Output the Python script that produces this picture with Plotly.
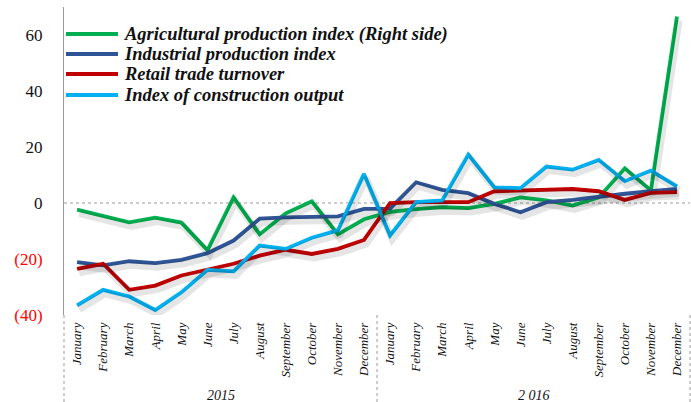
import plotly.graph_objects as go

months = ["January", "February", "March", "April", "May", "June", "July",
          "August", "September", "October", "November", "December"]
years = ["2015", "2 016"]
categories = months + months

agri = [-2.4, -4.8, -6.9, -5.2, -7.0, -16.9, 2.0, -11.2, -3.7, 0.6, -11.2, -5.8,
        -3.2, -2.2, -1.5, -1.8, -0.3, 2.0, 0.9, -0.9, 2.0, 12.4, 4.5, 66.6]
industrial = [-21.1, -22.3, -20.8, -21.5, -20.3, -17.9, -13.4, -5.6, -5.1, -4.8, -4.8, -2.1,
              -2.0, 7.4, 4.7, 3.5, -0.3, -3.3, 0.3, 1.1, 2.3, 3.3, 4.2, 5.0]
retail = [-23.5, -21.7, -31.0, -29.5, -25.9, -23.9, -21.7, -18.8, -16.7, -18.2, -16.4, -13.2,
          0.0, 0.3, 0.3, 0.3, 4.2, 4.5, 4.5, 5.0, 4.2, 1.1, 3.6, 3.9]
construction = [-36.6, -31.0, -33.4, -38.2, -31.9, -23.9, -24.4, -15.2, -16.4, -12.4, -9.8, 10.4,
                -11.6, 0.3, 0.9, 17.3, 5.6, 5.3, 13.0, 11.9, 15.4, 7.8, 11.6, 5.9]

series_names = ["Agricultural production index (Right side)", "Industrial production index",
                "Retail trade turnover", "Index of construction output"]
series_values = [agri, industrial, retail, construction]
colors = ["#00B050", "#2F5597", "#C00000", "#00B0F0"]

y_tickvals = [60, 40, 20, 0, -20, -40]
y_ticktext = ["60", "40", "20", "0",
              "<span style='color:#FF0000'>(20)</span>",
              "<span style='color:#FF0000'>(40)</span>"]

x = list(range(len(categories)))
SERIF = "Liberation Serif, Times New Roman, serif"

fig = go.Figure()

# soft shadows (overlaid, slightly shifted axes)
for i in range(4):
    fig.add_trace(go.Scatter(x=x, y=series_values[i], mode="lines", xaxis="x2", yaxis="y2",
                             line=dict(color="rgba(0,0,0,0.10)", width=7),
                             hoverinfo="skip", showlegend=False))
for i in range(4):
    fig.add_trace(go.Scatter(x=x, y=series_values[i], mode="lines", name=series_names[i],
                             line=dict(color=colors[i], width=3.8), showlegend=False))

L, R, T, B = 64, 1, 7, 87
W, H = 691, 402
pw = W - L - R
ph = H - T - B

def px_x(p):
    return (p - L) / pw

def px_y(p):
    return (H - B - p) / ph

shapes = []
shapes.append(dict(type="line", xref="paper", yref="y", x0=0, x1=1, y0=0, y1=0,
                   line=dict(color="#9a9a9a", width=1, dash="dot"), layer="below"))
for p in [0, 0.5, 1]:
    shapes.append(dict(type="line", xref="paper", yref="paper", x0=p, x1=p, y0=0, y1=px_y(402),
                       line=dict(color="#9a9a9a", width=1, dash="dot")))
annotations = []
leg_y = [34, 54, 74, 95]
for i in range(4):
    shapes.append(dict(type="line", xref="paper", yref="paper", x0=px_x(66), x1=px_x(118),
                       y0=px_y(leg_y[i]), y1=px_y(leg_y[i]),
                       line=dict(color=colors[i], width=3.8)))
    annotations.append(dict(text="<b><i>%s</i></b>" % series_names[i], xref="paper", yref="paper",
                            x=px_x(122), y=px_y(leg_y[i]), xanchor="left", yanchor="middle",
                            showarrow=False, font=dict(family=SERIF, size=18.5, color="#111")))
for k, yr in enumerate(years):
    annotations.append(dict(text="<i>%s</i>" % yr, xref="x", yref="paper", x=5.5 + 12 * k,
                            y=px_y(395), xanchor="center", yanchor="middle", showarrow=False,
                            font=dict(family=SERIF, size=14, color="#111")))

xs = 2.2 / 26.08
ys = 4.0 / 2.8
fig.update_layout(
    width=W, height=H,
    margin=dict(l=L, r=R, t=T, b=B),
    paper_bgcolor="white", plot_bgcolor="white",
    showlegend=False,
    xaxis=dict(range=[-0.5, 23.5], tickmode="array", tickvals=x,
               ticktext=["<i>%s</i>" % m for m in categories], tickangle=-90,
               tickfont=dict(family=SERIF, size=13, color="#111"),
               showgrid=False, zeroline=False, showline=False, ticks="",
               ticklabelstandoff=4),
    yaxis=dict(range=[-40, 70], tickmode="array", tickvals=y_tickvals, ticktext=y_ticktext,
               tickfont=dict(family=SERIF, size=17, color="#111"),
               showgrid=False, zeroline=False, showline=True, linecolor="#999", linewidth=1,
               ticks="", ticklabelstandoff=17),
    xaxis2=dict(range=[-0.5 - xs, 23.5 - xs], overlaying="x", visible=False),
    yaxis2=dict(range=[-40 + ys, 70 + ys], overlaying="y", visible=False),
    shapes=shapes, annotations=annotations,
)

fig.write_html("out.html", post_script="document.body.style.margin='0';",
               config={"displayModeBar": False})
